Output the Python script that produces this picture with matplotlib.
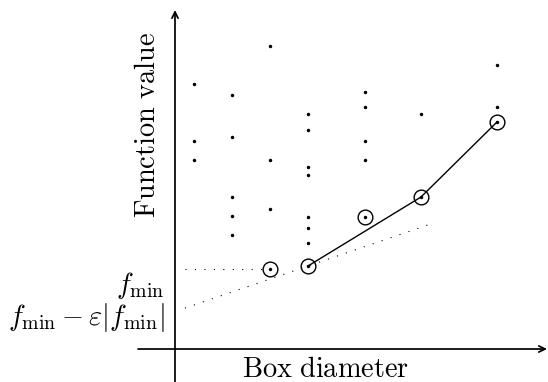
import matplotlib
matplotlib.use("Agg")
import matplotlib.pyplot as plt
import numpy as np

plt.rcParams['mathtext.fontset'] = 'cm'

# Data: box diameters and function values of the boxes
diameters = [1.9, 5.7, 9.5, 13.3, 19.0, 24.6, 32.2]
values = [
    [26.5, 20.8, 18.9],
    [25.4, 21.2, 15.2, 13.3, 11.4],
    [30.3, 18.9, 14.0, 8.0],
    [23.5, 21.9, 18.2, 17.4, 13.2, 12.1, 10.6, 8.3],
    [25.7, 24.2, 20.8, 18.9, 13.2],
    [23.5, 15.2],
    [28.4, 24.2, 22.7],
]
# potentially optimal (circled) boxes
circled_d = [9.5, 13.3, 19.0, 24.6, 32.2]
circled_f = [8.0, 8.3, 13.2, 15.2, 22.7]
# lower convex hull
hull_d = [13.3, 24.6, 32.2]
hull_f = [8.3, 15.2, 22.7]
f_min = 8.0
f_lower = 3.75

fig = plt.figure(figsize=(5.48, 3.82), dpi=100)
ax = fig.add_axes([0, 0, 1, 1])
ax.set_xlim(-17.5, 37.3)
ax.set_ylim(-3.3, 34.9)
ax.axis('off')

fs = 20.4
# axes with arrows
ax.annotate('', xy=(37.2, 0), xytext=(-3.7, 0),
            arrowprops=dict(arrowstyle='->,head_length=0.45,head_width=0.22', lw=1.25, color='black',
                            shrinkA=0, shrinkB=0))
ax.annotate('', xy=(0, 33.9), xytext=(0, -3.4),
            arrowprops=dict(arrowstyle='->,head_length=0.45,head_width=0.22', lw=1.25, color='black',
                            shrinkA=0, shrinkB=0))

# dots
for d, vals in zip(diameters, values):
    ax.plot([d] * len(vals), vals, 'o', color='black', ms=2.5, mew=0, zorder=3)

# circles
ax.plot(circled_d, circled_f, 'o', ms=10.6, mfc='none', mec='black', mew=1.0, zorder=3)

# hull line
ax.plot(hull_d, hull_f, '-', color='black', lw=1.0, zorder=2)

# dotted lines
ax.plot([1.0, 9.5], [f_min, f_min], color='black', lw=0.8, ls=(0, (1, 7.5)))
slope = (hull_f[0] - f_lower) / hull_d[0]
xs = np.array([1.0, 25.7])
ax.plot(xs, f_lower + slope * xs, color='black', lw=0.8, ls=(0, (1, 7.5)))

# labels
ax.text(15.1, -2.8, r'$\mathrm{Box\ diameter}$', fontsize=fs, ha='center', va='baseline')
ax.text(-2.0, 22.4, r'$\mathrm{Function\ value}$', fontsize=fs, ha='center', va='baseline',
        rotation=90, rotation_mode='anchor')
ax.text(-1.0, 5.6, r'$f_{\min}$', fontsize=fs, ha='right', va='baseline')
ax.text(-1.0, 2.4, r'$f_{\min}-\varepsilon|f_{\min}|$', fontsize=fs, ha='right', va='baseline')

fig.savefig('out.png', dpi=100)
